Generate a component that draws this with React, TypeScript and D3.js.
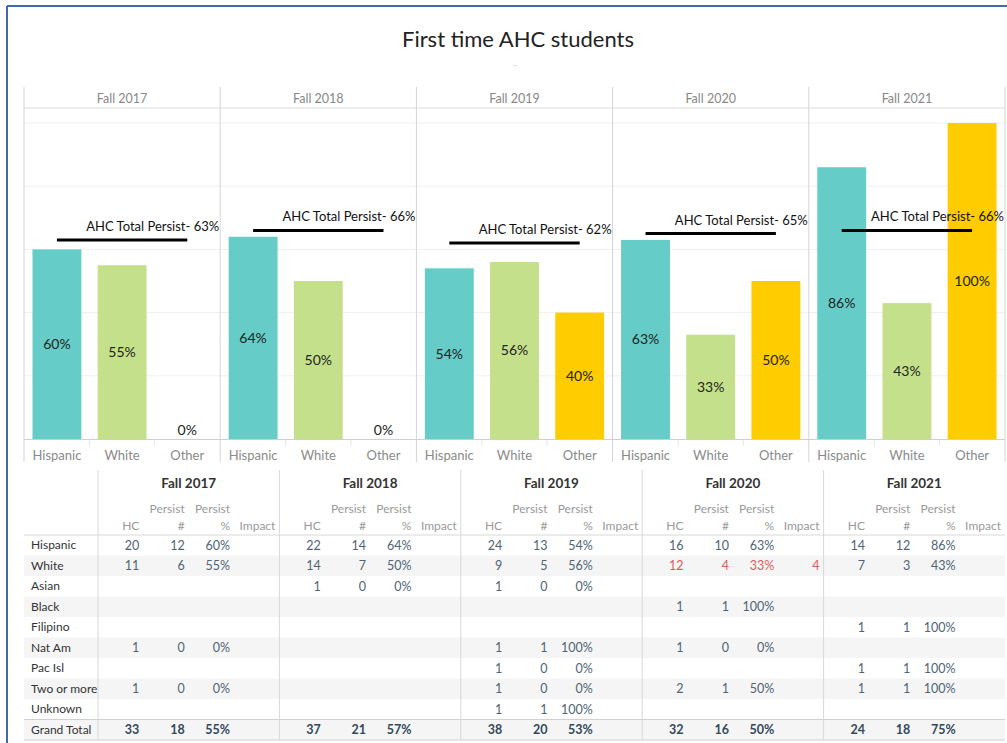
import * as d3 from 'd3';
import { useEffect, useRef } from 'react';

// chart data
const years = ['Fall 2017', 'Fall 2018', 'Fall 2019', 'Fall 2020', 'Fall 2021'];
const barCats = ['Hispanic', 'White', 'Other'];
const hispanicPct = [60, 64, 54, 63, 86];
const whitePct = [55, 50, 56, 33, 43];
const otherPct = [0, 0, 40, 50, 100];
const totalPersist = [63, 66, 62, 65, 66];

// table data (null = blank cell)
const rowLabels = ['Hispanic', 'White', 'Asian', 'Black', 'Filipino', 'Nat Am', 'Pac Isl', 'Two or more', 'Unknown', 'Grand Total'];
const colHeads = ['HC', '#', '%', 'Impact'];
const hc2017 = [20, 11, null, null, null, 1, null, 1, null, 33];
const per2017 = [12, 6, null, null, null, 0, null, 0, null, 18];
const pct2017 = [60, 55, null, null, null, 0, null, 0, null, 55];
const hc2018 = [22, 14, 1, null, null, null, null, null, null, 37];
const per2018 = [14, 7, 0, null, null, null, null, null, null, 21];
const pct2018 = [64, 50, 0, null, null, null, null, null, null, 57];
const hc2019 = [24, 9, 1, null, null, 1, 1, 1, 1, 38];
const per2019 = [13, 5, 0, null, null, 1, 0, 0, 1, 20];
const pct2019 = [54, 56, 0, null, null, 100, 0, 0, 100, 53];
const hc2020 = [16, 12, null, 1, null, 1, null, 2, null, 32];
const per2020 = [10, 4, null, 1, null, 0, null, 1, null, 16];
const pct2020 = [63, 33, null, 100, null, 0, null, 50, null, 50];
const impact2020 = [null, 4, null, null, null, null, null, null, null, null];
const hc2021 = [14, 7, null, null, 1, null, 1, 1, null, 24];
const per2021 = [12, 3, null, null, 1, null, 1, 1, null, 18];
const pct2021 = [86, 43, null, null, 100, null, 100, 100, null, 75];
const empty = [null, null, null, null, null, null, null, null, null, null];

// which year/row is flagged red
const flagged = [{ year: 'Fall 2020', row: 'White' }];

const FONT = 'Lato, "Open Sans", sans-serif';
const colors = { Hispanic: '#66ccc8', White: '#c5e08a', Other: '#ffcc00' };

const App = () => {
  const ref = useRef<SVGSVGElement>(null);

  useEffect(() => {
    const svg = d3.select(ref.current);
    svg.selectAll('*').remove();
    svg.attr('width', 1007).attr('height', 743).style('font-family', FONT);

    // frame
    svg.append('line').attr('x1', 7).attr('x2', 1007).attr('y1', 6).attr('y2', 6)
      .attr('stroke', '#4469a8').attr('stroke-width', 2);
    svg.append('line').attr('x1', 7).attr('x2', 7).attr('y1', 6).attr('y2', 743)
      .attr('stroke', '#4469a8').attr('stroke-width', 2);

    svg.append('text').attr('x', 518).attr('y', 47).attr('text-anchor', 'middle')
      .attr('font-size', 22).attr('fill', '#222').text('First time AHC students');
    svg.append('text').attr('x', 515).attr('y', 66).attr('text-anchor', 'middle')
      .attr('font-size', 7).attr('fill', '#aaa').text('..');

    // ---------- bar chart ----------
    const left = 24, right = 1005;
    const top = 87, headBottom = 108, base = 439;
    const xYear = d3.scaleBand().domain(years).range([left, right]);
    const xCat = d3.scaleBand().domain(barCats).range([0, xYear.bandwidth()])
      .paddingInner(0.25).paddingOuter(0.13);
    const y = d3.scaleLinear().domain([0, 1]).range([base, 123]);

    const byCat = { Hispanic: hispanicPct, White: whitePct, Other: otherPct };

    const chart = svg.append('g');

    // grid
    chart.selectAll('.grid')
      .data(y.ticks(5).filter(t => t > 0))
      .enter().append('line')
      .attr('x1', left).attr('x2', right)
      .attr('y1', d => y(d)).attr('y2', d => y(d))
      .attr('stroke', '#efefef');

    chart.append('line').attr('x1', left).attr('x2', right)
      .attr('y1', headBottom).attr('y2', headBottom).attr('stroke', '#dcdcdc');
    chart.append('line').attr('x1', left).attr('x2', right)
      .attr('y1', base + 0.5).attr('y2', base + 0.5).attr('stroke', '#cfcfcf');

    // panel separators
    chart.selectAll('.sep')
      .data([...years.map(d => xYear(d)!), right])
      .enter().append('line')
      .attr('x1', d => d).attr('x2', d => d)
      .attr('y1', top).attr('y2', 462)
      .attr('stroke', '#d4d4d4');

    years.forEach((yr, i) => {
      const g = chart.append('g').attr('transform', `translate(${xYear(yr)},0)`);
      const w = xYear.bandwidth();

      g.append('text').attr('x', w / 2).attr('y', 103).attr('text-anchor', 'middle')
        .attr('font-size', 12.5).attr('fill', '#888').text(yr);

      // small ticks between categories
      g.selectAll('.tk')
        .data(barCats.slice(1))
        .enter().append('line')
        .attr('x1', d => xCat(d)! - xCat.step() * 0.125)
        .attr('x2', d => xCat(d)! - xCat.step() * 0.125)
        .attr('y1', base + 1).attr('y2', base + 7)
        .attr('stroke', '#e6e6e6');

      const rows = barCats.map(c => ({ cat: c, v: byCat[c][i] / 100 }));

      g.selectAll('.bar')
        .data(rows)
        .enter().append('rect')
        .attr('x', d => xCat(d.cat)!)
        .attr('y', d => y(d.v))
        .attr('width', xCat.bandwidth())
        .attr('height', d => base - y(d.v))
        .attr('fill', d => colors[d.cat]);

      g.selectAll('.lbl')
        .data(rows)
        .enter().append('text')
        .attr('x', d => xCat(d.cat)! + xCat.bandwidth() / 2)
        .attr('y', d => d.v > 0 ? (y(d.v) + base) / 2 : base - 9)
        .attr('dy', '0.35em')
        .attr('text-anchor', 'middle')
        .attr('font-size', 14).attr('fill', '#222')
        .text(d => `${Math.round(d.v * 100)}%`);

      g.selectAll('.cat')
        .data(barCats)
        .enter().append('text')
        .attr('x', d => xCat(d)! + xCat.bandwidth() / 2)
        .attr('y', 455).attr('dy', '0.35em')
        .attr('text-anchor', 'middle')
        .attr('font-size', 13).attr('fill', '#8a8a8a')
        .text(d => d);

      // reference line
      const ly = y(totalPersist[i] / 100);
      const x0 = xCat(barCats[0])! + xCat.bandwidth() / 2;
      const x1 = xCat(barCats[2])! + xCat.bandwidth() / 2;
      g.append('line').attr('x1', x0).attr('x2', x1).attr('y1', ly).attr('y2', ly)
        .attr('stroke', '#000').attr('stroke-width', 3);
      g.append('text').attr('x', w - 1).attr('y', ly - 9)
        .attr('text-anchor', 'end').attr('font-size', 13).attr('fill', '#111')
        .text(`AHC Total Persist- ${totalPersist[i]}%`);
    });

    // ---------- table ----------
    const tbl = svg.append('g');
    const rowTop = 535, rowH = 20.5;
    const groupX = d3.scaleBand().domain(years).range([98, 1005]);
    const colX = d3.scaleBand().domain(colHeads).range([0, groupX.bandwidth()]);
    const rowY = d3.scaleBand().domain(rowLabels).range([rowTop, rowTop + rowH * rowLabels.length]);

    const tableData = {
      'Fall 2017': [hc2017, per2017, pct2017, empty],
      'Fall 2018': [hc2018, per2018, pct2018, empty],
      'Fall 2019': [hc2019, per2019, pct2019, empty],
      'Fall 2020': [hc2020, per2020, pct2020, impact2020],
      'Fall 2021': [hc2021, per2021, pct2021, empty],
    };

    tbl.selectAll('.band')
      .data(rowLabels.filter((_, i) => i % 2 === 1))
      .enter().append('rect')
      .attr('x', left).attr('width', right - left)
      .attr('y', d => rowY(d)!).attr('height', rowY.bandwidth())
      .attr('fill', '#f5f5f5');

    tbl.append('line').attr('x1', left).attr('x2', right)
      .attr('y1', rowTop).attr('y2', rowTop).attr('stroke', '#d8d8d8');
    const gtY = rowY('Grand Total')!;
    tbl.append('line').attr('x1', left).attr('x2', right)
      .attr('y1', gtY).attr('y2', gtY).attr('stroke', '#d0d0d0');
    tbl.append('line').attr('x1', left).attr('x2', right)
      .attr('y1', gtY + rowH).attr('y2', gtY + rowH).attr('stroke', '#d0d0d0');

    tbl.selectAll('.vsep')
      .data(years)
      .enter().append('line')
      .attr('x1', d => groupX(d)!).attr('x2', d => groupX(d)!)
      .attr('y1', 470).attr('y2', gtY + rowH)
      .attr('stroke', '#d8d8d8');

    tbl.selectAll('.rl')
      .data(rowLabels)
      .enter().append('text')
      .attr('x', 31).attr('y', d => rowY(d)! + rowH / 2).attr('dy', '0.35em')
      .attr('font-size', 12).attr('fill', '#333')
      .text(d => d);

    years.forEach(yr => {
      const g = tbl.append('g').attr('transform', `translate(${groupX(yr)},0)`);
      g.append('text').attr('x', groupX.bandwidth() / 2).attr('y', 483).attr('dy', '0.35em')
        .attr('text-anchor', 'middle').attr('font-size', 13.5).attr('font-weight', 'bold')
        .attr('fill', '#333').text(yr);

      colHeads.forEach((c, ci) => {
        const rx = colX(c)! + colX.bandwidth() - 4;
        if (ci === 1 || ci === 2) {
          g.append('text').attr('x', rx).attr('y', 509).attr('dy', '0.35em')
            .attr('text-anchor', 'end').attr('font-size', 12).attr('fill', '#999').text('Persist');
        }
        g.append('text').attr('x', rx).attr('y', 526).attr('dy', '0.35em')
          .attr('text-anchor', 'end').attr('font-size', 12).attr('fill', '#999').text(c);

        const vals = tableData[yr][ci];
        g.selectAll(`.v${ci}`)
          .data(rowLabels.map((r, ri) => ({ r, v: vals[ri] })).filter(d => d.v !== null))
          .enter().append('text')
          .attr('x', rx)
          .attr('y', d => rowY(d.r)! + rowH / 2).attr('dy', '0.35em')
          .attr('text-anchor', 'end').attr('font-size', 12.5)
          .attr('font-weight', d => d.r === 'Grand Total' ? 'bold' : 'normal')
          .attr('fill', d => flagged.some(f => f.year === yr && f.row === d.r) ? '#dc5b5b'
            : d.r === 'Grand Total' ? '#34495a' : '#4f6474')
          .text(d => ci === 2 ? `${d.v}%` : `${d.v}`);
      });
    });
  }, []);

  return <svg ref={ref} style={{ position: 'absolute', left: 0, top: 0 }}></svg>;
};

export default App;
